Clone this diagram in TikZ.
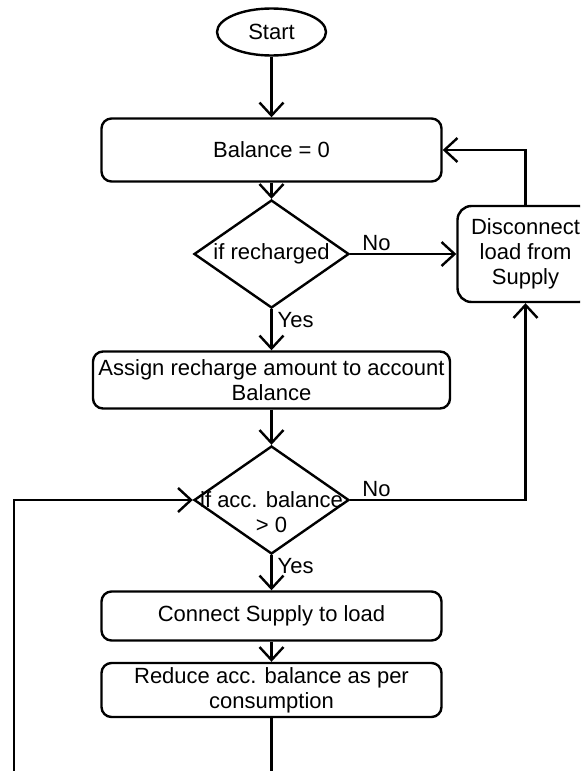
\documentclass[tikz,border=0pt]{standalone}
\usepackage{fontspec}
\setmainfont{Liberation Sans}
\usetikzlibrary{shapes.geometric,arrows.meta,positioning,calc}

\begin{document}
\begin{tikzpicture}[line width=1.2pt, >={Straight Barb[length=6.5pt,width=12pt]}, font=\fontsize{11}{12.5}\selectfont]
\tikzstyle{startstop}=[draw, ellipse, minimum width=54.5pt, minimum height=23.5pt, inner sep=0pt]
\tikzstyle{process}=[draw, rectangle, rounded corners=5pt, minimum width=170pt, align=center, inner sep=1pt]
\tikzstyle{decision}=[draw, diamond, minimum width=77.5pt, minimum height=54pt, inner sep=0pt]
\tikzstyle{answer}=[inner sep=1pt]

\useasboundingbox (0,0) rectangle (290pt,-385.5pt);
\clip (0,0) rectangle (290pt,-385.5pt);

\node[startstop] (start) at (135.75pt,-16pt) {Start};
\node[process, minimum height=31.5pt] (bal) [below of=start, node distance=59pt] {Balance = 0};
\node[decision, label=center:if recharged] (rech) [below of=bal, node distance=52pt] {};
\node[process, minimum width=178.5pt, minimum height=28.5pt] (assign) [below of=rech, node distance=63pt] {Assign recharge amount to account\\Balance};
\node[decision, label={[align=center, yshift=-6.25pt]center:if acc. balance\\> 0}] (acc) [below of=assign, node distance=60pt] {};
\node[process, minimum height=24.5pt] (conn) [below of=acc, node distance=58pt] {Connect Supply to load};
\node[process, minimum height=27pt] (reduce) [below of=conn, node distance=37pt] {Reduce acc. balance as per\\consumption};
\node[process, rounded corners=7pt, minimum width=68pt, minimum height=48pt] (disc) [right of=rech, node distance=127pt] {Disconnect\\load from\\Supply};

% loop ends run off the page
\coordinate (out) at ($(reduce.south)+(0,-40pt)$);
\coordinate (back) at (7pt,-400pt);

\foreach \a/\b in {start/bal, bal/rech, assign/acc, conn/reduce}
{\path[->] (\a) edge (\b);}
\draw[->] (rech) -- node[answer, pos=0, below right, xshift=1.5pt] {Yes} (assign);
\draw[->] (acc) -- node[answer, pos=0, below right, xshift=1.5pt] {Yes} (conn);
\draw[->] (rech) -- node[answer, pos=0, above right, xshift=4.5pt] {No} (disc);
\draw[->] (acc) -| node[answer, pos=0, above right, xshift=4.5pt] {No} (disc);
\draw[->] (disc) |- (bal);
\draw (reduce) -- (out);
\draw[->] (back) |- (acc);
\end{tikzpicture}
\end{document}
